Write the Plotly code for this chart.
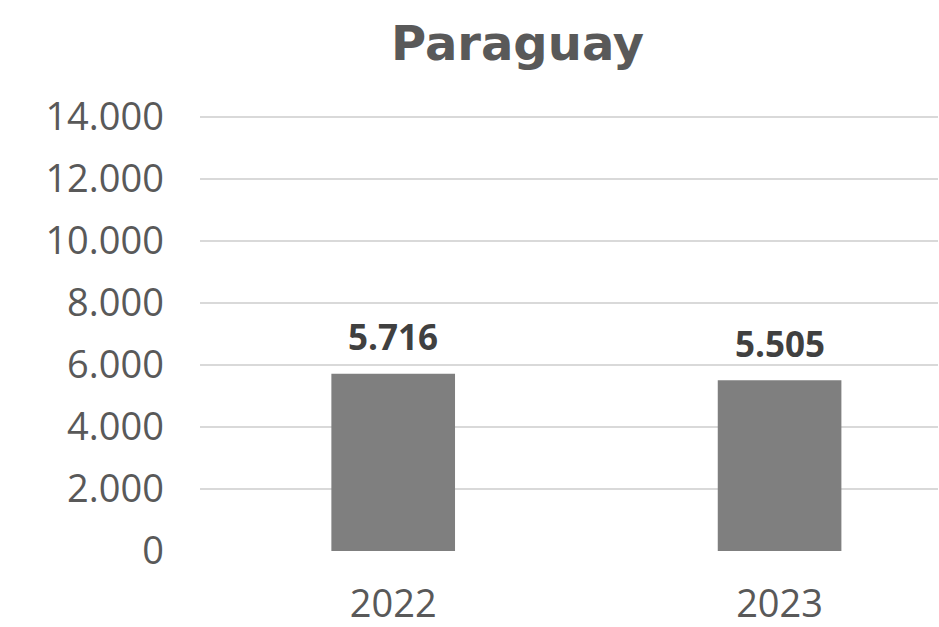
import plotly.graph_objects as go

categories = ["2022", "2023"]
values = [5716, 5505]
labels = ["5.716", "5.505"]
tick_vals = [0, 2000, 4000, 6000, 8000, 10000, 12000, 14000]
tick_text = ["0", "2.000", "4.000", "6.000", "8.000", "10.000", "12.000", "14.000"]

L, R = 200, 938
TOP0, BOT0 = 117, 551
px_per_unit = (BOT0 - TOP0) / 14000
ymax = 14000 + 3 / px_per_unit

fig = go.Figure()
fig.add_trace(go.Bar(
    x=[0, 1], y=values, width=0.32,
    marker=dict(color="#7f7f7f", line=dict(width=0)),
))

annotations = []
for i, (v, t) in enumerate(zip(values, labels)):
    annotations.append(dict(
        x=i, y=v, xref="x", yref="y", text="<b>%s</b>" % t, showarrow=False,
        yanchor="middle", xanchor="center", yshift=37,
        font=dict(family="Open Sans, sans-serif", size=35, color="#404040"),
    ))
annotations.append(dict(
    text="<b>Paraguay</b>", x=(517 - L) / (R - L), y=1 + (TOP0 - 3 - 43) / (BOT0 - TOP0 + 3),
    xref="paper", yref="paper", yanchor="middle", xanchor="center",
    showarrow=False, font=dict(family="DejaVu Sans, sans-serif", size=48, color="#595959"),
))

fig.update_layout(
    width=939, height=627,
    margin=dict(l=L, r=939 - R, t=TOP0 - 3, b=627 - BOT0),
    paper_bgcolor="white", plot_bgcolor="white",
    showlegend=False,
    font=dict(family="Open Sans, sans-serif", color="#595959"),
    xaxis=dict(range=[-0.5, 1.41], tickvals=[0, 1], ticktext=categories,
               tickfont=dict(size=38, color="#595959"), showgrid=False,
               zeroline=False, showline=False, ticks="", automargin=False,
               ticklabelstandoff=27),
    yaxis=dict(range=[0, ymax], tickvals=tick_vals, ticktext=tick_text,
               tickfont=dict(size=38, color="#595959"), showgrid=True,
               gridcolor="#d9d9d9", gridwidth=2, zeroline=False, showline=False,
               ticks="", ticklabelstandoff=35, automargin=False),
    annotations=annotations,
)
fig.write_html("out.html", post_script="document.body.style.margin='0';",
               config={"displayModeBar": False})
